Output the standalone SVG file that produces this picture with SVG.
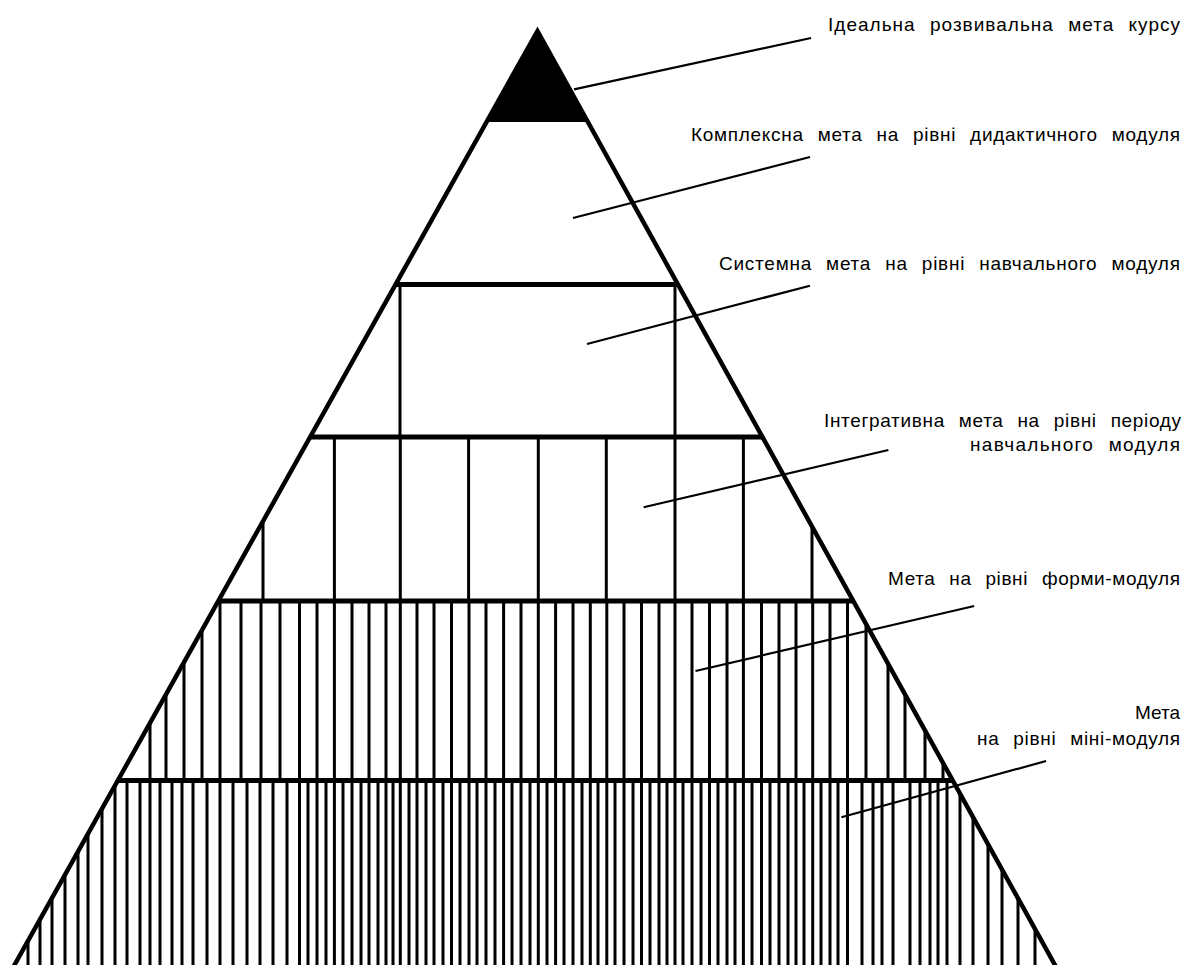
<svg xmlns="http://www.w3.org/2000/svg" width="1192" height="965" viewBox="0 0 1192 965">
<style>
.bg{fill:#fff}
.v{stroke:#000;stroke-width:3;fill:none}
.h{stroke:#000;stroke-width:5;fill:none}
.edge{stroke:#000;stroke-width:4.5;fill:none;stroke-linejoin:miter}
.lead{stroke:#000;stroke-width:2.2;fill:none}
.lbl{font-family:"Liberation Sans",Arial,sans-serif;font-size:19px;fill:#000;word-spacing:8px}
</style>
<rect class="bg" x="0" y="0" width="1192" height="965"/>
<g id="pyramid">
  <g id="tier1-apex">
    <polygon points="537.5,31 486.5,122 588,122" fill="#000"/>
  </g>
  <g id="tier2">
    <path class="v" d="M400 284.5V437M675 284.5V437"/>
  </g>
  <g id="tier3">
    <path class="v" d="M263 521V601M334.4 437V601M400.3 437V601M468.6 437V601M538.3 437V601M606.3 437V601M675 437V601M743.4 437V601M812 526.5V601"/>
  </g>
  <g id="tier4">
    <path class="v" d="M150 723V780.5M166 694.4V780.5M184 662.3V780.5M202 630V780.5M220 601V780.5M241 601V780.5M261 601V780.5M280 601V780.5M299.5 601V780.5M317 601V780.5M334.4 601V780.5M352 601V780.5M369 601V780.5M386 601V780.5M400.3 601V780.5M417 601V780.5M434 601V780.5M451.5 601V780.5M469 601V780.5M486 601V780.5M503.6 601V780.5M521 601V780.5M538.3 601V780.5M555.6 601V780.5M573 601V780.5M590.3 601V780.5M606.8 601V780.5M624 601V780.5M641.5 601V780.5M659 601V780.5M675 601V780.5M692 601V780.5M709.5 601V780.5M727 601V780.5M743.4 601V780.5M761.5 601V780.5M779 601V780.5M796 601V780.5M812.7 601V780.5M830 601V780.5M847.5 601V780.5M866 624V780.5M888 663.6V780.5M905 694.4V780.5M925 730.5V780.5M943 763V780.5"/>
  </g>
  <g id="tier5">
    <path class="v" d="M28 940.8V966M40 919.4V966M52 898V966M65 874.8V966M78 851.5V966M88 833.7V966M102 808.7V966M115 785.5V966M127 780.5V966M140 780.5V966M150 780.5V966M160 780.5V966M172 780.5V966M182 780.5V966M193 780.5V966M207 780.5V966M220 780.5V966M233 780.5V966M247 780.5V966M260 780.5V966M273 780.5V966M287 780.5V966M299.5 780.5V966M308 780.5V966M317 780.5V966M326 780.5V966M334.4 780.5V966M343 780.5V966M352 780.5V966M361 780.5V966M369 780.5V966M378 780.5V966M386 780.5V966M393 780.5V966M400.3 780.5V966M409 780.5V966M417 780.5V966M426 780.5V966M434 780.5V966M443 780.5V966M451.5 780.5V966M460 780.5V966M469 780.5V966M477 780.5V966M486 780.5V966M495 780.5V966M503.6 780.5V966M512 780.5V966M521 780.5V966M530 780.5V966M538.3 780.5V966M547 780.5V966M555.6 780.5V966M564 780.5V966M573 780.5V966M582 780.5V966M590.3 780.5V966M598 780.5V966M606.8 780.5V966M615 780.5V966M624 780.5V966M633 780.5V966M641.5 780.5V966M650 780.5V966M659 780.5V966M667 780.5V966M675 780.5V966M683 780.5V966M692 780.5V966M701 780.5V966M709.5 780.5V966M718 780.5V966M727 780.5V966M735 780.5V966M743.4 780.5V966M752 780.5V966M761.5 780.5V966M770 780.5V966M779 780.5V966M788 780.5V966M796 780.5V966M804 780.5V966M812.7 780.5V966M821 780.5V966M830 780.5V966M838 780.5V966M847.5 780.5V966M862 780.5V966M873 780.5V966M882 780.5V966M893 780.5V966M910 780.5V966M920 780.5V966M930 780.5V966M938 780.5V966M947 780.5V966M960 793.6V966M973 817V966M988 844V966M1002 869.4V966M1018 898.3V966M1035 929V966"/>
  </g>
  <g id="tier-borders">
    <path class="h" d="M395.5 284.5H677.9M310.1 437H762.4M218.3 601H853.3M117.8 780.5H952.7"/>
  </g>
  <g id="outline">
    <path class="edge" d="M10 973L537.5 31L1059.4 973"/>
  </g>
</g>
<g id="connectors">
  <path class="lead" d="M574 89.3L811 38"/>
  <path class="lead" d="M573 218L810 157"/>
  <path class="lead" d="M587 344L810 285.7"/>
  <path class="lead" d="M643.6 507.3L888.4 450"/>
  <path class="lead" d="M695.5 671L974.2 606"/>
  <path class="lead" d="M841.4 817.3L1046.1 761"/>
</g>
<g id="label-ideal">
  <text class="lbl" x="1180" y="31" text-anchor="end" textLength="352" lengthAdjust="spacing">Ідеальна розвивальна мета курсу</text>
</g>
<g id="label-complex">
  <text class="lbl" x="1180" y="141" text-anchor="end" textLength="489" lengthAdjust="spacing">Комплексна мета на рівні дидактичного модуля</text>
</g>
<g id="label-system">
  <text class="lbl" x="1180" y="269.5" text-anchor="end" textLength="461" lengthAdjust="spacing">Системна мета на рівні навчального модуля</text>
</g>
<g id="label-integr">
  <text class="lbl" x="1181" y="426.5" text-anchor="end" textLength="357" lengthAdjust="spacing">Інтегративна мета на рівні періоду</text>
  <text class="lbl" x="1180" y="450.5" text-anchor="end" textLength="210" lengthAdjust="spacing">навчального модуля</text>
</g>
<g id="label-form">
  <text class="lbl" x="1180" y="585" text-anchor="end" textLength="292" lengthAdjust="spacing">Мета на рівні форми-модуля</text>
</g>
<g id="label-mini">
  <text class="lbl" x="1180" y="718.5" text-anchor="end">Мета</text>
  <text class="lbl" x="1180" y="745" text-anchor="end" textLength="203" lengthAdjust="spacing">на рівні міні-модуля</text>
</g>
</svg>
